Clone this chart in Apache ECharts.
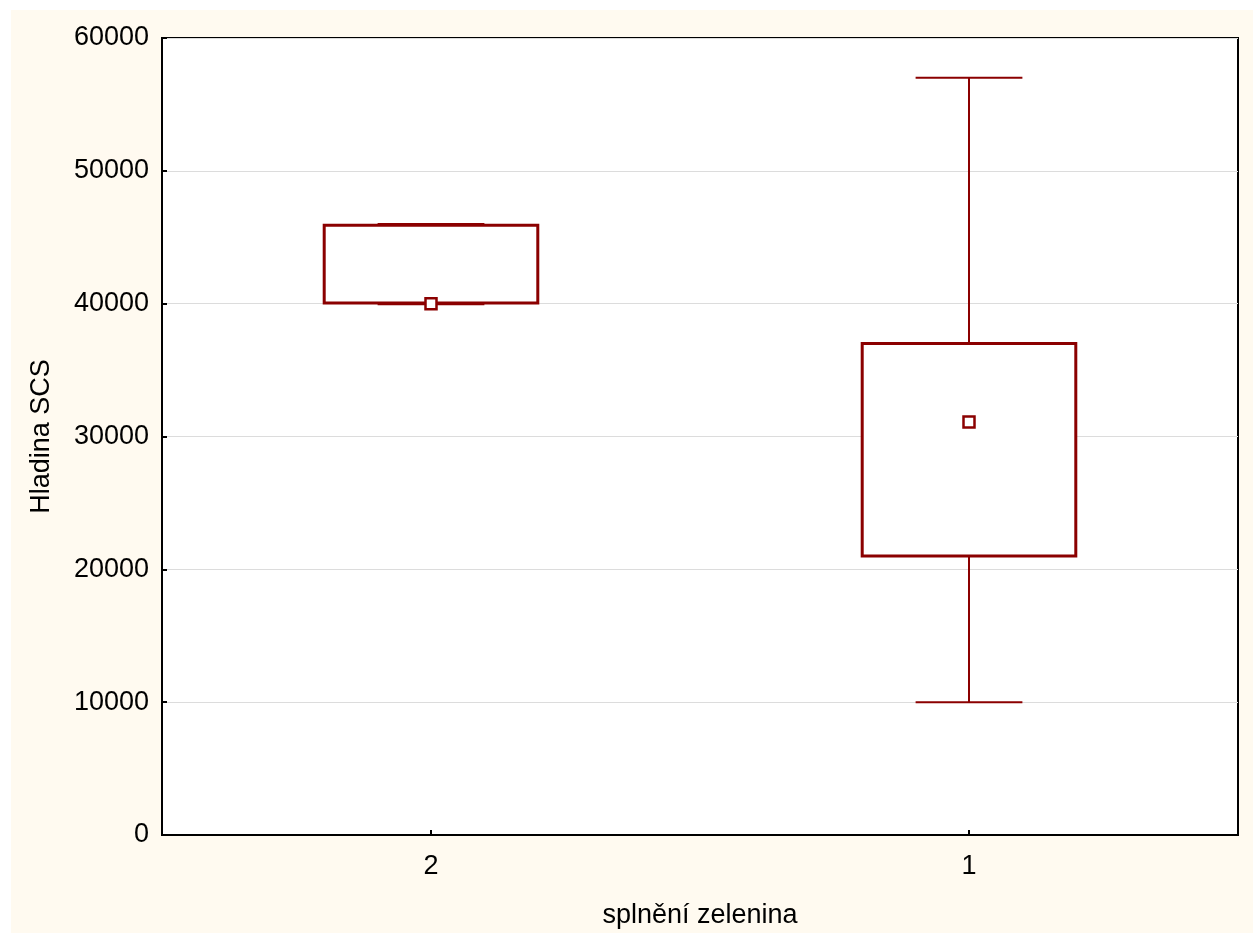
<!DOCTYPE html>
<html>
<head>
<meta charset="utf-8">
<style>
html,body{margin:0;padding:0;background:#fff;}
#c{width:1258px;height:935px;}
</style>
<script src="https://cdn.jsdelivr.net/npm/echarts@6/dist/echarts.min.js"></script>
</head>
<body>
<div id="c"></div>
<script>
// Data
const categories = ['2', '1'];
const whiskerLow = [39950, 10000];
const boxLow = [40050, 21000];
const marker = [40000, 31100];
const boxHigh = [45900, 37000];
const whiskerHigh = [46000, 57000];
const yTicks = [0, 10000, 20000, 30000, 40000, 50000, 60000];

const color = '#8B0000';
const font = '"Liberation Sans", Arial, sans-serif';

const data = categories.map((c, i) => [i, whiskerLow[i], boxLow[i], marker[i], boxHigh[i], whiskerHigh[i]]);

function renderItem(params, api) {
  const x = api.value(0);
  const band = api.size([1, 0])[0];
  const bw = band * 0.397;
  const cw = bw * 0.5;
  const pLow = api.coord([x, api.value(1)]);
  const pQ1 = api.coord([x, api.value(2)]);
  const pMed = api.coord([x, api.value(3)]);
  const pQ3 = api.coord([x, api.value(4)]);
  const pHigh = api.coord([x, api.value(5)]);
  const cx = pQ1[0];
  const wl = {stroke: color, lineWidth: 2};
  return {
    type: 'group',
    children: [
      {type: 'line', shape: {x1: cx, y1: pHigh[1], x2: cx, y2: pQ3[1]}, style: wl},
      {type: 'line', shape: {x1: cx - cw / 2, y1: pHigh[1], x2: cx + cw / 2, y2: pHigh[1]}, style: wl},
      {type: 'line', shape: {x1: cx, y1: pQ1[1], x2: cx, y2: pLow[1]}, style: wl},
      {type: 'line', shape: {x1: cx - cw / 2, y1: pLow[1], x2: cx + cw / 2, y2: pLow[1]}, style: wl},
      {type: 'rect', shape: {x: cx - bw / 2, y: pQ3[1], width: bw, height: pQ1[1] - pQ3[1]},
        style: {fill: '#fff', stroke: color, lineWidth: 3}},
      {type: 'rect', shape: {x: cx - 5.5, y: pMed[1] - 5.5, width: 11, height: 11},
        style: {fill: '#fff', stroke: color, lineWidth: 2.5}}
    ]
  };
}

const chart = echarts.init(document.getElementById('c'), null, {renderer: 'canvas'});
chart.setOption({
  animation: false,
  backgroundColor: '#fff',
  graphic: [{
    type: 'rect', z: -10, silent: true,
    shape: {x: 11, y: 10, width: 1242, height: 923},
    style: {fill: '#FFFAF0'}
  }],
  grid: {
    left: 162, top: 38, right: 20, bottom: 100,
    show: true, backgroundColor: '#fff', borderColor: '#000', borderWidth: 2
  },
  xAxis: {
    type: 'category',
    data: categories,
    boundaryGap: true,
    name: 'splnění zelenina',
    nameLocation: 'middle',
    nameGap: 67,
    nameTextStyle: {fontFamily: font, fontSize: 27, color: '#000'},
    axisLine: {show: true, lineStyle: {color: '#000', width: 2}},
    axisTick: {show: true, inside: true, length: 5, alignWithLabel: true, lineStyle: {color: '#000', width: 2}},
    axisLabel: {fontFamily: font, fontSize: 27, color: '#000', margin: 18},
    splitLine: {show: false}
  },
  yAxis: {
    type: 'value',
    min: yTicks[0],
    max: yTicks[yTicks.length - 1],
    interval: yTicks[1] - yTicks[0],
    name: 'Hladina SCS',
    nameLocation: 'middle',
    nameRotate: 90,
    nameGap: 107,
    nameTextStyle: {fontFamily: font, fontSize: 27, color: '#000'},
    axisLine: {show: true, lineStyle: {color: '#000', width: 2}},
    axisTick: {show: true, inside: true, length: 5, lineStyle: {color: '#000', width: 2}},
    axisLabel: {fontFamily: font, fontSize: 27, color: '#000', margin: 13, padding: [6, 0, 0, 0], formatter: v => String(v)},
    splitLine: {show: true, lineStyle: {color: '#dcdcdc', width: 1}}
  },
  series: [{
    type: 'custom',
    renderItem: renderItem,
    encode: {x: 0, y: [1, 2, 3, 4, 5]},
    data: data,
    z: 5
  }]
});
</script>
</body>
</html>
